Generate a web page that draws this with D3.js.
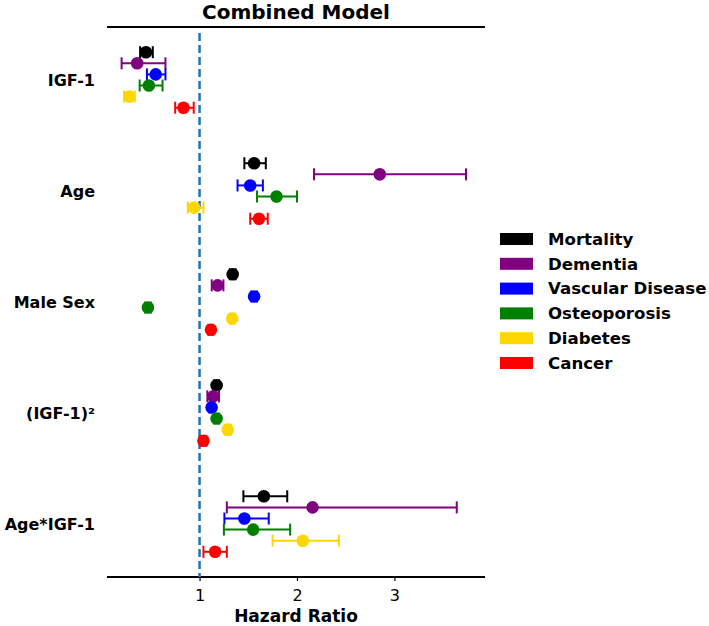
<!DOCTYPE html>
<html>
<head>
<meta charset="utf-8">
<script src="https://cdn.jsdelivr.net/npm/d3@7"></script>
<style>
  body { margin: 0; background: #fff; }
  text { font-family: "DejaVu Sans", sans-serif; }
</style>
</head>
<body>
<div id="chart"></div>
<script>
// covariates (rows, top to bottom)
const covariates = ["IGF-1", "Age", "Male Sex", "(IGF-1)²", "Age*IGF-1"];
// outcomes (series)
const outcomes = ["Mortality", "Dementia", "Vascular Disease", "Osteoporosis", "Diabetes", "Cancer"];
const outcomeColors = ["#000000", "#800080", "#0000ff", "#008000", "#ffd700", "#ff0000"];

// hazard ratio estimates, one array per outcome, in covariate order
const hrMortality    = [0.45, 1.56, 1.34, 1.175, 1.66];
const hrDementia     = [0.36, 2.85, 1.185, 1.14, 2.16];
const hrVascular     = [0.55, 1.52, 1.56, 1.124, 1.46];
const hrOsteoporosis = [0.48, 1.79, 0.47, 1.175, 1.55];
const hrDiabetes     = [0.28, 0.945, 1.335, 1.29, 2.06];
const hrCancer       = [0.835, 1.61, 1.117, 1.04, 1.16];

// lower / upper confidence limits
const loMortality    = [0.39, 1.46, 1.31, 1.15, 1.45];
const hiMortality    = [0.52, 1.68, 1.37, 1.20, 1.90];
const loDementia     = [0.20, 2.175, 1.125, 1.08, 1.28];
const hiDementia     = [0.65, 3.735, 1.245, 1.20, 3.64];
const loVascular     = [0.46, 1.39, 1.53, 1.10, 1.255];
const hiVascular     = [0.65, 1.65, 1.59, 1.15, 1.71];
const loOsteoporosis = [0.385, 1.59, 0.44, 1.15, 1.25];
const hiOsteoporosis = [0.62, 2.00, 0.50, 1.20, 1.93];
const loDiabetes     = [0.225, 0.88, 1.31, 1.26, 1.75];
const hiDiabetes     = [0.335, 1.04, 1.36, 1.32, 2.43];
const loCancer       = [0.75, 1.52, 1.09, 1.01, 1.04];
const hiCancer       = [0.94, 1.70, 1.14, 1.07, 1.28];

const xTicks = [1, 2, 3];
const refLine = 1;

const hrs = [hrMortality, hrDementia, hrVascular, hrOsteoporosis, hrDiabetes, hrCancer];
const los = [loMortality, loDementia, loVascular, loOsteoporosis, loDiabetes, loCancer];
const his = [hiMortality, hiDementia, hiVascular, hiOsteoporosis, hiDiabetes, hiCancer];

const W = 709, H = 626;
const plot = {left: 107, right: 485, top: 27, bottom: 577};

const svg = d3.select("#chart").append("svg")
    .attr("width", W).attr("height", H);

const x = d3.scaleLinear().domain([0.05, 3.93]).range([plot.left, plot.right]);
// row position: covariate index + offset of the outcome within the row
const y = d3.scaleLinear().domain([-0.477, 4.477]).range([plot.top, plot.bottom]);
const rowStep = 0.1;

const points = [];
outcomes.forEach((o, j) => {
    covariates.forEach((c, i) => {
        points.push({
            outcome: o, color: outcomeColors[j],
            pos: i + (j - 2.5) * rowStep,
            hr: hrs[j][i], lo: los[j][i], hi: his[j][i]
        });
    });
});

// title
svg.append("text")
    .attr("x", (plot.left + plot.right) / 2).attr("y", 19)
    .attr("text-anchor", "middle")
    .style("font-size", "20px").style("font-weight", "bold")
    .text("Combined Model");

// top and bottom spines
svg.append("line")
    .attr("x1", plot.left).attr("x2", plot.right)
    .attr("y1", plot.top).attr("y2", plot.top)
    .attr("stroke", "#000").attr("stroke-width", 2);

const xAxis = svg.append("g")
    .attr("transform", `translate(0,${plot.bottom})`)
    .call(d3.axisBottom(x).tickValues(xTicks).tickFormat(d3.format("d")).tickSize(4).tickPadding(9));
xAxis.select(".domain").attr("d", `M${plot.left},0H${plot.right}`).attr("stroke-width", 2);
xAxis.selectAll(".tick line").attr("stroke-width", 1.2);
xAxis.selectAll(".tick text").style("font-size", "16px").style("font-family", "DejaVu Sans").attr("fill", "#000");

svg.append("text")
    .attr("x", (plot.left + plot.right) / 2).attr("y", 622)
    .attr("text-anchor", "middle")
    .style("font-size", "17px").style("font-weight", "bold")
    .text("Hazard Ratio");

// covariate labels
svg.selectAll(".row-label")
    .data(covariates)
    .enter().append("text")
    .attr("class", "row-label")
    .attr("x", 95).attr("y", (d, i) => y(i))
    .attr("dy", "0.35em")
    .attr("text-anchor", "end")
    .style("font-size", "16px").style("font-weight", "bold")
    .text(d => d);

// reference line at HR = 1
svg.append("line")
    .attr("x1", x(refLine)).attr("x2", x(refLine))
    .attr("y1", plot.top + 6).attr("y2", plot.bottom)
    .attr("stroke", "#1f77b4").attr("stroke-width", 2.5)
    .attr("stroke-dasharray", "8,4");

const capH = 6;
const g = svg.append("g");
const pts = g.selectAll(".pt").data(points).enter().append("g").attr("class", "pt");

pts.append("line")
    .attr("x1", d => x(d.lo)).attr("x2", d => x(d.hi))
    .attr("y1", d => y(d.pos)).attr("y2", d => y(d.pos))
    .attr("stroke", d => d.color).attr("stroke-width", 2);
pts.append("line")
    .attr("x1", d => x(d.lo)).attr("x2", d => x(d.lo))
    .attr("y1", d => y(d.pos) - capH).attr("y2", d => y(d.pos) + capH)
    .attr("stroke", d => d.color).attr("stroke-width", 2);
pts.append("line")
    .attr("x1", d => x(d.hi)).attr("x2", d => x(d.hi))
    .attr("y1", d => y(d.pos) - capH).attr("y2", d => y(d.pos) + capH)
    .attr("stroke", d => d.color).attr("stroke-width", 2);
pts.append("circle")
    .attr("cx", d => x(d.hr)).attr("cy", d => y(d.pos))
    .attr("r", 6.3)
    .attr("fill", d => d.color);

// legend
const legend = svg.append("g").attr("transform", "translate(500,233)");
const items = legend.selectAll(".leg").data(outcomes).enter().append("g")
    .attr("transform", (d, i) => `translate(0,${i * 24.8})`);
items.append("rect")
    .attr("width", 33).attr("height", 12)
    .attr("fill", (d, i) => outcomeColors[i]);
items.append("text")
    .attr("x", 48).attr("y", 6).attr("dy", "0.35em")
    .style("font-size", "16.6px").style("font-weight", "bold")
    .text(d => d);
</script>
</body>
</html>
